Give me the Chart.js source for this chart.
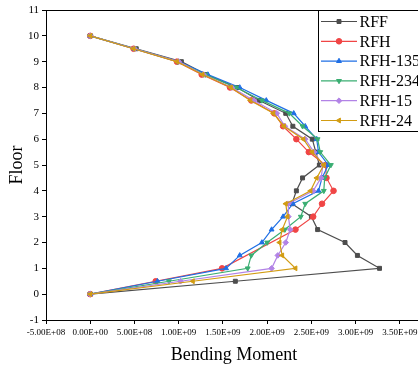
<!DOCTYPE html>
<html lang="en">
<head>
<meta charset="UTF-8">
<title>Bending Moment by Floor</title>
<script src="https://cdn.jsdelivr.net/npm/chart.js"></script>
<style>
    html, body { margin: 0; padding: 0; background: #fff; overflow: hidden; }
    canvas { display: block; }
</style>
</head>
<body>
<canvas id="momentChart" width="440" height="366"></canvas>
<script>
// floors (y) shared by every series, null = no marker at that floor
const floors = [0, 0.5, 1, 1.5, 2, 2.5, 3, 3.5, 4, 4.5, 5, 5.5, 6, 6.5, 7, 7.5, 8, 8.5, 9, 9.5, 10];

const rff    = [0, 1.64e9, 3.27e9, 3.02e9, 2.88e9, 2.57e9, 2.50e9, 2.28e9, 2.33e9, 2.40e9, 2.59e9, 2.55e9, 2.51e9, 2.29e9, 2.21e9, 1.91e9, 1.66e9, 1.31e9, 1.03e9, 0.52e9, 0];
const rfh    = [0, 0.74e9, 1.49e9, null, null, 2.32e9, 2.52e9, 2.62e9, 2.75e9, 2.67e9, 2.66e9, 2.47e9, 2.33e9, 2.18e9, 2.08e9, 1.82e9, 1.58e9, 1.26e9, 0.98e9, 0.49e9, 0];
const rfh135 = [0, 0.76e9, 1.535e9, 1.69e9, 1.94e9, 2.05e9, 2.18e9, 2.29e9, 2.58e9, 2.62e9, 2.69e9, 2.58e9, 2.56e9, 2.43e9, 2.30e9, 1.99e9, 1.69e9, 1.33e9, 1.00e9, 0.50e9, 0];
const rfh234 = [0, 0.89e9, 1.78e9, 1.82e9, 2.00e9, 2.20e9, 2.38e9, 2.43e9, 2.64e9, 2.65e9, 2.72e9, 2.60e9, 2.57e9, 2.40e9, 2.25e9, 1.94e9, 1.65e9, 1.30e9, 0.99e9, 0.50e9, 0];
const rfh15  = [0, 1.02e9, 2.05e9, 2.12e9, 2.21e9, 2.26e9, 2.24e9, 2.24e9, 2.52e9, 2.61e9, 2.63e9, 2.53e9, 2.43e9, 2.20e9, 2.11e9, 1.85e9, 1.60e9, 1.28e9, 1.00e9, 0.50e9, 0];
const rfh24  = [0, 1.16e9, 2.32e9, 2.17e9, 2.14e9, 2.17e9, 2.23e9, 2.21e9, 2.49e9, 2.56e9, 2.64e9, 2.51e9, 2.41e9, 2.19e9, 2.07e9, 1.81e9, 1.59e9, 1.27e9, 0.98e9, 0.49e9, 0];

const seriesNames = ['RFF', 'RFH', 'RFH-135', 'RFH-234', 'RFH-15', 'RFH-24'];
const xTicks = [-5e8, 0, 5e8, 1e9, 1.5e9, 2e9, 2.5e9, 3e9, 3.5e9];
const yTicks = [-1, 0, 1, 2, 3, 4, 5, 6, 7, 8, 9, 10, 11];

// look of each series
const colors = ['#4d4d4d', '#f04545', '#1f6fe5', '#3aae72', '#b283e6', '#d29c12'];
const shapes = ['rect', 'circle', 'triangle', 'triangle', 'rectRot', 'triangle'];
const turns  = [0, 0, 0, 180, 0, -90];

const serif = "'Liberation Serif', 'Times New Roman', serif";

function toPoints(values) {
    const pts = [];
    values.forEach((v, i) => { if (v !== null) pts.push({ x: v, y: floors[i] }); });
    return pts;
}

// 5e8 -> 5.00E+08
function sci(v) {
    const parts = Number(v).toExponential(2).split('e');
    const exp = parseInt(parts[1], 10);
    const sign = exp < 0 ? '-' : '+';
    return parts[0] + 'E' + sign + String(Math.abs(exp)).padStart(2, '0');
}

const allSeries = [rff, rfh, rfh135, rfh234, rfh15, rfh24];
const datasets = allSeries.map((vals, i) => ({
    label: seriesNames[i],
    data: toPoints(vals),
    showLine: true,
    borderColor: colors[i],
    backgroundColor: colors[i],
    borderWidth: 1.2,
    pointStyle: shapes[i],
    pointRotation: turns[i],
    pointRadius: 2.8,
    pointBorderWidth: 1,
    tension: 0,
    order: allSeries.length - i
}));

// framed legend and plot border
const boxLegend = {
    id: 'boxLegend',
    afterDraw(chart) {
        const ctx = chart.ctx;
        const a = chart.chartArea;
        ctx.save();
        ctx.strokeStyle = '#000';
        ctx.lineWidth = 1;
        ctx.strokeRect(a.left + 0.5, a.top + 0.5, a.right - a.left, a.bottom - a.top);

        ctx.fillStyle = '#fff';
        ctx.fillRect(318.5, 10.5, 130, 121);
        ctx.strokeRect(318.5, 10.5, 130, 121);

        chart.data.datasets.forEach((ds, i) => {
            const y = 21.5 + i * 19.8;
            ctx.strokeStyle = ds.borderColor;
            ctx.fillStyle = ds.backgroundColor;
            ctx.lineWidth = 1.2;
            ctx.beginPath();
            ctx.moveTo(321, y);
            ctx.lineTo(357, y);
            ctx.stroke();
            ctx.lineWidth = 1;
            Chart.helpers.drawPoint(ctx, { pointStyle: ds.pointStyle, rotation: ds.pointRotation, radius: 2.8, borderWidth: 1 }, 339, y);
            ctx.fillStyle = '#000';
            ctx.font = '16px ' + serif;
            ctx.textAlign = 'left';
            ctx.textBaseline = 'middle';
            ctx.fillText(ds.label, 359.5, y + 1);
        });
        ctx.restore();
    }
};

new Chart(document.getElementById('momentChart'), {
    type: 'scatter',
    data: { datasets: datasets },
    plugins: [boxLegend],
    options: {
        responsive: false,
        animation: false,
        layout: { padding: { top: 10, right: 18, left: 0, bottom: 0 } },
        plugins: { legend: { display: false }, tooltip: { enabled: false } },
        scales: {
            x: {
                type: 'linear',
                min: -5e8,
                max: 3.75e9,
                afterBuildTicks: s => { s.ticks = xTicks.map(v => ({ value: v })); },
                afterFit: s => { s.height = 46; },
                grid: { drawOnChartArea: false, tickLength: 4, color: '#000', tickColor: '#000' },
                border: { display: true, color: '#000', width: 1 },
                ticks: { color: '#000', font: { family: serif, size: 9 }, padding: 3, maxRotation: 0, autoSkip: false, callback: v => sci(v) },
                title: { display: true, text: 'Bending Moment', color: '#000', font: { family: serif, size: 18 }, padding: { top: 0, bottom: 0 } }
            },
            y: {
                type: 'linear',
                min: -1,
                max: 11,
                afterBuildTicks: s => { s.ticks = yTicks.map(v => ({ value: v })); },
                afterFit: s => { s.width = 46; },
                grid: { drawOnChartArea: false, tickLength: 4, color: '#000', tickColor: '#000' },
                border: { display: true, color: '#000', width: 1 },
                ticks: { color: '#000', font: { family: serif, size: 11 }, padding: 3 },
                title: { display: true, text: 'Floor', color: '#000', font: { family: serif, size: 18 }, padding: { top: 6, bottom: 0 } }
            }
        }
    }
});
</script>
</body>
</html>
